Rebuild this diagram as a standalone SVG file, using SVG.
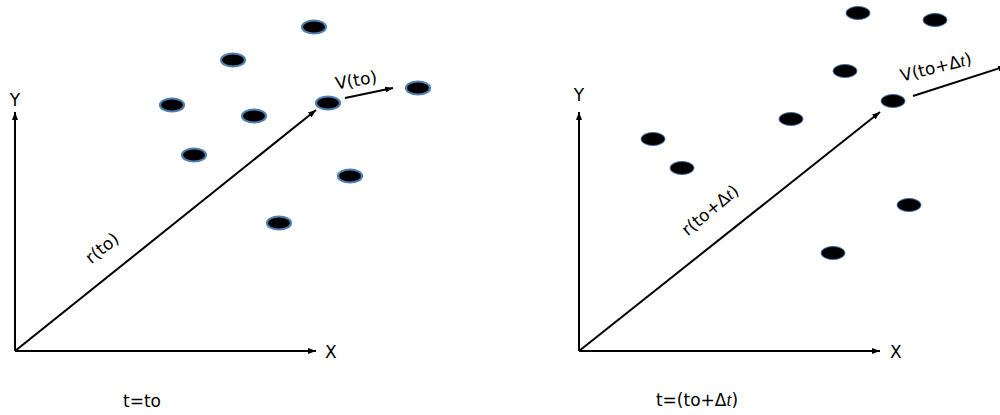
<svg xmlns="http://www.w3.org/2000/svg" width="1000" height="415" viewBox="0 0 1000 415">
<style>
.bg{fill:#ffffff}
.dotA{fill:#000000;stroke:#4f7fb0;stroke-width:2.2}
.dotB{fill:#000000;stroke:#3d6a99;stroke-width:1}
.ax{stroke:#000000;stroke-width:2;fill:none}
.lbl{font-family:"DejaVu Sans",Verdana,sans-serif;font-size:17px;fill:#000000}
.it{font-family:"Liberation Serif",serif;font-style:italic;font-size:18px}
</style>
<defs>
<marker id="ah" viewBox="0 0 8 6" refX="8" refY="3" markerWidth="8" markerHeight="6" markerUnits="userSpaceOnUse" orient="auto">
<path d="M0,0 L8,3 L0,6 z" fill="#000000"/>
</marker>
</defs>
<rect class="bg" x="0" y="0" width="1000" height="415"/>

<g id="connectors">
<line class="ax" x1="15" y1="351" x2="15" y2="112" marker-end="url(#ah)"/>
<line class="ax" x1="15" y1="351" x2="316" y2="351" marker-end="url(#ah)"/>
<line class="ax" x1="15" y1="351" x2="316" y2="110" marker-end="url(#ah)"/>
<line class="ax" x1="345" y1="98" x2="393" y2="88" marker-end="url(#ah)"/>
<line class="ax" x1="579" y1="351" x2="579" y2="112" marker-end="url(#ah)"/>
<line class="ax" x1="579" y1="351" x2="880" y2="351" marker-end="url(#ah)"/>
<line class="ax" x1="579" y1="351" x2="880" y2="112" marker-end="url(#ah)"/>
<line class="ax" x1="913" y1="96" x2="1006" y2="66" marker-end="url(#ah)"/>
</g>

<g id="left-particles">
<g id="pA1"><ellipse class="dotA" cx="314" cy="27" rx="12" ry="6.5"/></g>
<g id="pA2"><ellipse class="dotA" cx="233" cy="60" rx="12" ry="6.5"/></g>
<g id="pA3"><ellipse class="dotA" cx="172" cy="105" rx="12" ry="6.5"/></g>
<g id="pA4"><ellipse class="dotA" cx="254" cy="116" rx="12" ry="6.5"/></g>
<g id="pA5"><ellipse class="dotA" cx="328" cy="103" rx="12" ry="6.5"/></g>
<g id="pA6"><ellipse class="dotA" cx="418" cy="88" rx="12" ry="6.5"/></g>
<g id="pA7"><ellipse class="dotA" cx="194" cy="155" rx="12" ry="6.5"/></g>
<g id="pA8"><ellipse class="dotA" cx="350" cy="176" rx="12" ry="6.5"/></g>
<g id="pA9"><ellipse class="dotA" cx="279" cy="223" rx="12" ry="6.5"/></g>
</g>

<g id="right-particles">
<g id="pB1"><ellipse class="dotB" cx="858" cy="13" rx="12" ry="6.5"/></g>
<g id="pB2"><ellipse class="dotB" cx="935" cy="20" rx="12" ry="6.5"/></g>
<g id="pB3"><ellipse class="dotB" cx="845" cy="71" rx="12" ry="6.5"/></g>
<g id="pB4"><ellipse class="dotB" cx="893" cy="101" rx="12" ry="6.5"/></g>
<g id="pB5"><ellipse class="dotB" cx="791" cy="119" rx="12" ry="6.5"/></g>
<g id="pB6"><ellipse class="dotB" cx="653" cy="139" rx="12" ry="6.5"/></g>
<g id="pB7"><ellipse class="dotB" cx="682" cy="168" rx="12" ry="6.5"/></g>
<g id="pB8"><ellipse class="dotB" cx="909" cy="205" rx="12" ry="6.5"/></g>
<g id="pB9"><ellipse class="dotB" cx="833" cy="253" rx="12" ry="6.5"/></g>
</g>

<g id="labels">
<text class="lbl" x="15" y="106" text-anchor="middle">Y</text>
<text class="lbl" x="325" y="358">X</text>
<text class="lbl" x="102" y="254" text-anchor="middle" transform="rotate(-39 102 248)">r(to)</text>
<text class="lbl" x="356" y="86" text-anchor="middle" transform="rotate(-10 356 80)">V(to)</text>
<text class="lbl" x="142" y="407" text-anchor="middle">t=to</text>

<text class="lbl" x="579" y="101" text-anchor="middle">Y</text>
<text class="lbl" x="890" y="358">X</text>
<text class="lbl" x="710" y="216" text-anchor="middle" transform="rotate(-40 710 210)">r(to+Δ<tspan class="it">t</tspan>)</text>
<text class="lbl" x="936" y="73" text-anchor="middle" transform="rotate(-14 936 67)">V(to+Δ<tspan class="it">t</tspan>)</text>
<text class="lbl" x="697" y="406" text-anchor="middle">t=(to+Δ<tspan class="it">t</tspan>)</text>
</g>
</svg>
